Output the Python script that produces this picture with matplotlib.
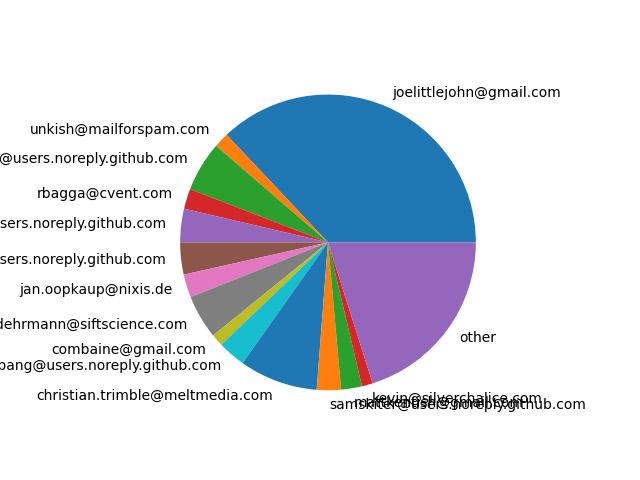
import matplotlib
matplotlib.use('Agg')
import matplotlib.pyplot as plt

authors = ['joelittlejohn@gmail.com', 'unkish@mailforspam.com',
           'tomwk@users.noreply.github.com', 'rbagga@cvent.com',
           'lkoch@users.noreply.github.com', 'dfrank@users.noreply.github.com',
           'jan.oopkaup@nixis.de', 'jdehrmann@siftscience.com',
           'combaine@gmail.com', 'zbang@users.noreply.github.com',
           'christian.trimble@meltmedia.com', 'samskiter@users.noreply.github.com',
           'mattkentish@gmail.com', 'kevin@silverchalice.com', 'other']
# wedge sizes (degrees)
commits = [133.3, 5.9, 19.7, 7.9, 13.2, 12.6, 9.1, 17.3, 4.8, 10.9,
           30.9, 9.5, 8.2, 4.3, 72.4]

fig, ax = plt.subplots(figsize=(6.4, 4.8), dpi=100)
ax.pie(commits, labels=authors)
plt.savefig('out.png')
